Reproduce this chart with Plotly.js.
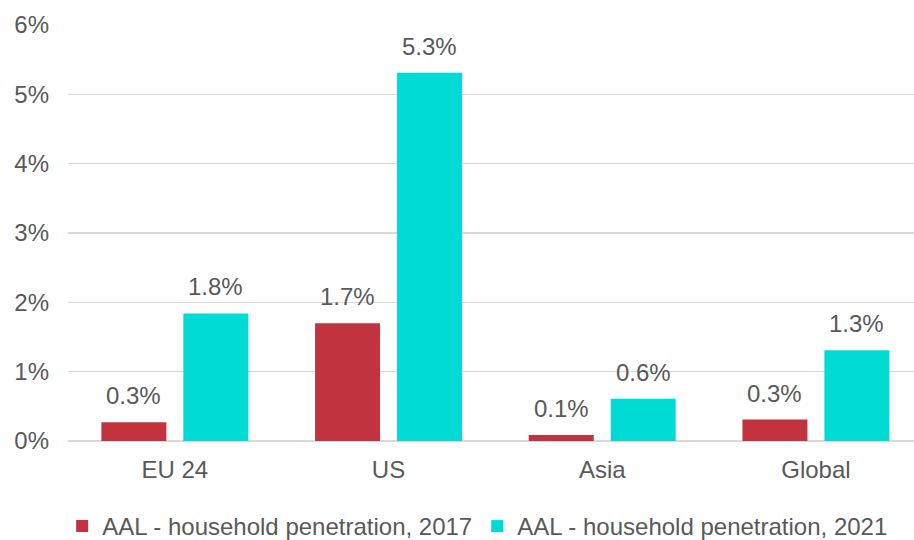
<!DOCTYPE html>
<html>
<head>
<meta charset="utf-8">
<script src="https://cdn.plot.ly/plotly-3.0.1.min.js"></script>
<style>html,body{margin:0;padding:0;background:#fff;}#chart{width:914px;height:540px;}</style>
</head>
<body>
<div id="chart"></div>
<script>
const categories = ["EU 24", "US", "Asia", "Global"];
const seriesNames = ["AAL - household penetration, 2017", "AAL - household penetration, 2021"];
const values2017 = [0.27, 1.70, 0.087, 0.31];
const values2021 = [1.84, 5.31, 0.61, 1.31];
const labels2017 = ["0.3%", "1.7%", "0.1%", "0.3%"];
const labels2021 = ["1.8%", "5.3%", "0.6%", "1.3%"];
const yTickVals = [0, 1, 2, 3, 4, 5, 6];
const yTickText = ["0%", "1%", "2%", "3%", "4%", "5%", "6%"];

const colors = ["#C0333F", "#00DBD5"];
const textColor = "#595959";
const font = "Liberation Sans, Arial, sans-serif";

const traces = [
  {type: "bar", name: seriesNames[0], x: categories, y: values2017, marker: {color: colors[0]}, hoverinfo: "none"},
  {type: "bar", name: seriesNames[1], x: categories, y: values2021, marker: {color: colors[1]}, hoverinfo: "none"}
];

const annotations = [];
categories.forEach((c, i) => {
  annotations.push({x: c, y: values2017[i], text: labels2017[i], showarrow: false, xref: "x", yref: "y",
    xanchor: "center", yanchor: "bottom", xshift: -41, yshift: 11, font: {family: font, size: 24, color: textColor}});
  annotations.push({x: c, y: values2021[i], text: labels2021[i], showarrow: false, xref: "x", yref: "y",
    xanchor: "center", yanchor: "bottom", xshift: 41, yshift: 11, font: {family: font, size: 24, color: textColor}});
});

const layout = {
  width: 914, height: 540,
  margin: {l: 68, r: 0, t: 25, b: 99, pad: 0, autoexpand: false},
  paper_bgcolor: "#ffffff", plot_bgcolor: "#ffffff",
  font: {family: font, size: 24, color: textColor},
  barmode: "group",
  bargap: 0.233,
  bargroupgap: 0.207,
  showlegend: true,
  legend: {orientation: "h", xref: "container", yref: "container", x: 0.068, xanchor: "left", y: 0.025, yanchor: "middle",
    font: {family: font, size: 24, color: textColor}, itemwidth: 30, traceorder: "normal"},
  xaxis: {type: "category", range: [-0.5, 3.459], showgrid: false, zeroline: false, showline: false,
    ticks: "", ticklabelstandoff: 12, tickfont: {family: font, size: 24, color: textColor}, fixedrange: true},
  yaxis: {range: [0, 6], tickvals: yTickVals, ticktext: yTickText, showgrid: true, gridcolor: "#D9D9D9", gridwidth: 1.5,
    zeroline: true, zerolinecolor: "#D9D9D9", zerolinewidth: 1.5, showline: false, ticks: "",
    ticklabelstandoff: 18, tickfont: {family: font, size: 24, color: textColor}, fixedrange: true},
  annotations: annotations
};

Plotly.newPlot("chart", traces, layout, {displayModeBar: false, staticPlot: true});
</script>
</body>
</html>
